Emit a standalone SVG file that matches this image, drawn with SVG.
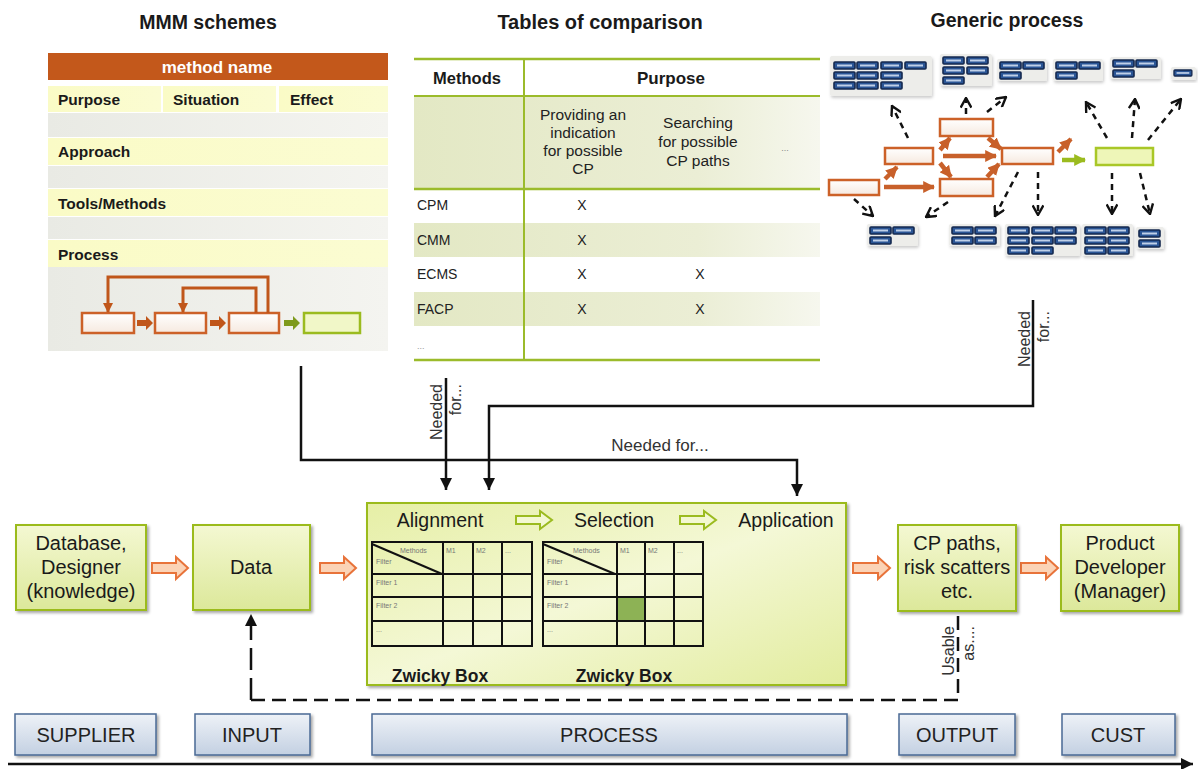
<svg xmlns="http://www.w3.org/2000/svg" width="1198" height="769" viewBox="0 0 1198 769">
<style>
.t{font-family:"Liberation Sans",Arial,sans-serif;fill:#1a1a1a}
.b{font-weight:bold}
.n{font-family:"Liberation Sans Narrow","Liberation Sans",Arial,sans-serif;fill:#222}
.node{fill:url(#gNode);stroke:#9BBB1F;stroke-width:2;filter:url(#sh)}
.bar{fill:url(#gBar);stroke:#4A6A95;stroke-width:1.5;filter:url(#sh)}
.ob{fill:url(#gOb);stroke:#CC6128;stroke-width:2.5}
.grp{fill:#EDEDEA;filter:url(#sh2)}
.conn{fill:none;stroke:#111;stroke-width:2.5}
.dash{fill:none;stroke:#111;stroke-width:2.5;stroke-dasharray:6 5}
.oa{fill:none;stroke:#C8602A;stroke-width:4.5}
.harrO{fill:#FBD3B6;stroke:#E8733A;stroke-width:2}
.harrG{fill:#F3F8D2;stroke:#9BBB1F;stroke-width:2}
.zg{fill:none;stroke:#111;stroke-width:2}
.zt{font-family:"Liberation Sans",Arial,sans-serif;font-size:7px;fill:#777}
.tg{stroke:#9BBB2B;fill:none}
</style>
<defs>
<filter id="sh" x="-10%" y="-10%" width="130%" height="130%"><feDropShadow dx="2" dy="2" stdDeviation="1.5" flood-color="#000" flood-opacity="0.35"/></filter>
<filter id="sh2" x="-10%" y="-10%" width="130%" height="130%"><feDropShadow dx="1" dy="2" stdDeviation="1.5" flood-color="#000" flood-opacity="0.2"/></filter>
<linearGradient id="gNode" x1="0" y1="0" x2="0" y2="1"><stop offset="0" stop-color="#F4F8D2"/><stop offset="1" stop-color="#DCE89A"/></linearGradient>
<linearGradient id="gProc" x1="0" y1="0" x2="1" y2="1"><stop offset="0" stop-color="#E6EFA6"/><stop offset="0.5" stop-color="#F4F8D6"/><stop offset="1" stop-color="#E2EC9E"/></linearGradient>
<linearGradient id="gBar" x1="0" y1="0" x2="0" y2="1"><stop offset="0" stop-color="#EEF2F7"/><stop offset="1" stop-color="#C3D0E2"/></linearGradient>
<linearGradient id="gOb" x1="0" y1="0" x2="0" y2="1"><stop offset="0" stop-color="#FFFFFF"/><stop offset="1" stop-color="#F6E9DF"/></linearGradient>
<linearGradient id="gRow" x1="0" y1="0" x2="1" y2="0"><stop offset="0" stop-color="#E3E8C4"/><stop offset="0.7" stop-color="#EBEED5"/><stop offset="1" stop-color="#F6F7EE"/></linearGradient>
<linearGradient id="gGrey" x1="0" y1="0" x2="1" y2="0"><stop offset="0" stop-color="#E9EAE4"/><stop offset="1" stop-color="#F4F4F0"/></linearGradient>
<linearGradient id="gYel" x1="0" y1="0" x2="1" y2="0"><stop offset="0" stop-color="#FAFBC6"/><stop offset="1" stop-color="#FBFCD2"/></linearGradient>
<marker id="ah" viewBox="0 0 10 10" refX="10" refY="5" markerWidth="12" markerHeight="12" markerUnits="userSpaceOnUse" orient="auto"><path d="M0,0 L10,5 L0,10 z" fill="#111"/></marker>
<marker id="ahO" viewBox="0 0 10 10" refX="9" refY="5" markerWidth="10" markerHeight="10" markerUnits="userSpaceOnUse" orient="auto"><path d="M0,0 L10,5 L0,10 z" fill="#C0561A"/></marker>
<marker id="ahO2" viewBox="0 0 10 10" refX="9" refY="5" markerWidth="12" markerHeight="12" markerUnits="userSpaceOnUse" orient="auto"><path d="M0,0 L10,5 L0,10 z" fill="#C8602A"/></marker>
<marker id="ahG2" viewBox="0 0 10 10" refX="9" refY="5" markerWidth="12" markerHeight="12" markerUnits="userSpaceOnUse" orient="auto"><path d="M0,0 L10,5 L0,10 z" fill="#9BBB1F"/></marker>
<marker id="chev" viewBox="0 0 10 10" refX="9" refY="5" markerWidth="12" markerHeight="12" markerUnits="userSpaceOnUse" orient="auto"><path d="M1,0.5 L9,5 L1,9.5" fill="none" stroke="#111" stroke-width="2"/></marker>
<g id="bl"><rect width="21" height="7" rx="1" fill="#2A5595" stroke="#15294F" stroke-width="1.6"/><rect x="3" y="2.5" width="15" height="2" fill="#BFD0E8"/></g>
</defs>

<rect width="1198" height="769" fill="#fff"/>

<!-- MMM schemes -->
<g id="mmm">
<text class="t b" x="208" y="29" font-size="19.5" text-anchor="middle">MMM schemes</text>
<rect x="48" y="53" width="340" height="27" fill="#C3581B"/>
<text class="t b" x="217" y="73" font-size="17" text-anchor="middle" style="fill:#fff">method name</text>
<rect x="48" y="86" width="113" height="26" fill="url(#gYel)"/>
<rect x="163" y="86" width="113" height="26" fill="url(#gYel)"/>
<rect x="279" y="86" width="109" height="26" fill="url(#gYel)"/>
<rect x="48" y="113" width="340" height="24" fill="url(#gGrey)"/>
<rect x="48" y="138" width="340" height="27" fill="url(#gYel)"/>
<rect x="48" y="166" width="340" height="22" fill="url(#gGrey)"/>
<rect x="48" y="189" width="340" height="27" fill="url(#gYel)"/>
<rect x="48" y="217" width="340" height="22" fill="url(#gGrey)"/>
<rect x="48" y="240" width="340" height="27" fill="url(#gYel)"/>
<rect x="48" y="267" width="340" height="84" fill="url(#gGrey)"/>
<g class="t b" font-size="15.5">
<text x="58" y="105">Purpose</text>
<text x="173" y="105">Situation</text>
<text x="290" y="105">Effect</text>
<text x="58" y="157">Approach</text>
<text x="58" y="209">Tools/Methods</text>
<text x="58" y="260">Process</text>
</g>
<rect class="ob" x="82" y="313" width="52" height="20"/>
<rect class="ob" x="155" y="313" width="51" height="20"/>
<rect class="ob" x="229" y="313" width="50" height="20"/>
<rect x="304" y="313" width="56" height="20" fill="#F1F7C8" stroke="#9BBB1F" stroke-width="2.5"/>
<path d="M137,320 H146 V316 L153,323 L146,330 V326 H137 Z" fill="#C0561A"/>
<path d="M210,320 H219 V316 L226,323 L219,330 V326 H210 Z" fill="#C0561A"/>
<path d="M284,320 H293 V316 L300,323 L293,330 V326 H284 Z" fill="#7E9A1C"/>
<path d="M268,313 V277 H108 V312" fill="none" stroke="#C0561A" stroke-width="3" marker-end="url(#ahO)"/>
<path d="M256,313 V288 H183 V312" fill="none" stroke="#C0561A" stroke-width="3" marker-end="url(#ahO)"/>
</g>

<!-- Tables of comparison -->
<g id="table">
<text class="t b" x="600" y="29" font-size="20" text-anchor="middle">Tables of comparison</text>
<rect x="414" y="97" width="406" height="92" fill="url(#gRow)"/>
<rect x="414" y="223" width="406" height="34" fill="url(#gRow)"/>
<rect x="414" y="292" width="406" height="34" fill="url(#gRow)"/>
<line class="tg" x1="414" y1="59" x2="820" y2="59" stroke-width="2.5"/>
<line class="tg" x1="414" y1="96" x2="820" y2="96" stroke-width="2"/>
<line class="tg" x1="414" y1="189" x2="820" y2="189" stroke-width="2.5"/>
<line class="tg" x1="414" y1="360" x2="820" y2="360" stroke-width="2.5"/>
<line class="tg" x1="524" y1="59" x2="524" y2="360" stroke-width="2"/>
<text class="t b" x="467" y="84" font-size="16.5" text-anchor="middle">Methods</text>
<text class="t b" x="671" y="84" font-size="17" text-anchor="middle">Purpose</text>
<g class="n" font-size="15.5" text-anchor="middle">
<text x="583" y="120">Providing an</text>
<text x="583" y="138">indication</text>
<text x="583" y="156">for possible</text>
<text x="583" y="174">CP</text>
<text x="698" y="128">Searching</text>
<text x="698" y="147">for possible</text>
<text x="698" y="166">CP paths</text>
<text x="785" y="151" font-size="9" fill="#888">...</text>
</g>
<g class="n" font-size="14">
<text x="417" y="210">CPM</text>
<text x="417" y="245">CMM</text>
<text x="417" y="279">ECMS</text>
<text x="417" y="314">FACP</text>
<text x="417" y="349" font-size="9" style="fill:#999">...</text>
</g>
<g class="n" font-size="14" text-anchor="middle">
<text x="582" y="210">X</text>
<text x="582" y="245">X</text>
<text x="582" y="279">X</text>
<text x="700" y="279">X</text>
<text x="582" y="314">X</text>
<text x="700" y="314">X</text>
</g>
</g>

<!-- Generic process -->
<g id="generic">
<text class="t b" x="1007" y="27" font-size="19.5" text-anchor="middle">Generic process</text>
<rect class="grp" x="830" y="56" width="102" height="40" rx="2"/>
<rect class="grp" x="940" y="54" width="52" height="32" rx="2"/>
<rect class="grp" x="997" y="59" width="50" height="22" rx="2"/>
<rect class="grp" x="1053" y="59" width="50" height="22" rx="2"/>
<rect class="grp" x="1110" y="57" width="51" height="22" rx="2"/>
<rect class="grp" x="1171" y="67" width="25" height="13" rx="2"/>
<use href="#bl" x="834" y="62"/><use href="#bl" x="857" y="62"/><use href="#bl" x="881" y="62"/><use href="#bl" x="905" y="62"/>
<use href="#bl" x="834" y="72"/><use href="#bl" x="857" y="72"/><use href="#bl" x="881" y="72"/>
<use href="#bl" x="834" y="82"/><use href="#bl" x="857" y="82"/><use href="#bl" x="881" y="82"/>
<use href="#bl" x="943" y="57"/><use href="#bl" x="967" y="57"/>
<use href="#bl" x="943" y="67"/><use href="#bl" x="967" y="67"/>
<use href="#bl" x="943" y="77"/>
<use href="#bl" x="1000" y="62"/><use href="#bl" x="1023" y="62"/><use href="#bl" x="1000" y="72"/>
<use href="#bl" x="1056" y="62"/><use href="#bl" x="1079" y="62"/><use href="#bl" x="1056" y="72"/>
<use href="#bl" x="1113" y="60"/><use href="#bl" x="1136" y="60"/><use href="#bl" x="1113" y="70"/>
<use href="#bl" x="1174" y="70" transform="translate(1174,70) scale(0.85) translate(-1174,-70)"/>

<rect class="grp" x="867" y="224" width="51" height="22" rx="2"/>
<rect class="grp" x="949" y="224" width="51" height="22" rx="2"/>
<rect class="grp" x="1005" y="224" width="75" height="32" rx="2"/>
<rect class="grp" x="1082" y="224" width="51" height="32" rx="2"/>
<rect class="grp" x="1136" y="227" width="28" height="22" rx="2"/>
<use href="#bl" x="870" y="227"/><use href="#bl" x="893" y="227"/><use href="#bl" x="870" y="237"/>
<use href="#bl" x="952" y="227"/><use href="#bl" x="975" y="227"/><use href="#bl" x="952" y="237"/><use href="#bl" x="975" y="237"/>
<use href="#bl" x="1008" y="227"/><use href="#bl" x="1032" y="227"/><use href="#bl" x="1055" y="227"/>
<use href="#bl" x="1008" y="237"/><use href="#bl" x="1032" y="237"/><use href="#bl" x="1055" y="237"/>
<use href="#bl" x="1008" y="247"/><use href="#bl" x="1032" y="247"/>
<use href="#bl" x="1085" y="227"/><use href="#bl" x="1108" y="227"/>
<use href="#bl" x="1085" y="237"/><use href="#bl" x="1108" y="237"/>
<use href="#bl" x="1085" y="247"/><use href="#bl" x="1108" y="247"/>
<use href="#bl" x="1139" y="230"/><use href="#bl" x="1139" y="240"/>

<rect class="ob" x="829" y="180" width="50" height="15"/>
<rect class="ob" x="885" y="148" width="48" height="16"/>
<rect class="ob" x="940" y="119" width="53" height="17"/>
<rect class="ob" x="940" y="179" width="53" height="17"/>
<rect class="ob" x="1002" y="148" width="51" height="16"/>
<rect x="1096" y="148" width="57" height="17" fill="#EEF6B8" stroke="#A9C727" stroke-width="2.5"/>

<g class="oa">
<line x1="885" y1="179" x2="897" y2="167" marker-end="url(#ahO2)"/>
<line x1="884" y1="187" x2="934" y2="187" marker-end="url(#ahO2)"/>
<line x1="940" y1="150" x2="950" y2="138" marker-end="url(#ahO2)"/>
<line x1="940" y1="163" x2="951" y2="177" marker-end="url(#ahO2)"/>
<line x1="943" y1="156" x2="996" y2="156" marker-end="url(#ahO2)"/>
<line x1="988" y1="138" x2="1001" y2="149" marker-end="url(#ahO2)"/>
<line x1="987" y1="177" x2="999" y2="164" marker-end="url(#ahO2)"/>
<line x1="1058" y1="152" x2="1071" y2="139" marker-end="url(#ahO2)"/>
</g>
<line x1="1062" y1="160" x2="1085" y2="160" stroke="#9BBB1F" stroke-width="4.5" marker-end="url(#ahG2)"/>

<g class="dash">
<line x1="908" y1="138" x2="892" y2="106" marker-end="url(#chev)"/>
<line x1="966" y1="114" x2="966" y2="98" marker-end="url(#chev)"/>
<line x1="987" y1="112" x2="1006" y2="97" marker-end="url(#chev)"/>
<line x1="1107" y1="138" x2="1086" y2="102" marker-end="url(#chev)"/>
<line x1="1132" y1="138" x2="1135" y2="99" marker-end="url(#chev)"/>
<line x1="1148" y1="140" x2="1181" y2="99" marker-end="url(#chev)"/>
<line x1="854" y1="199" x2="873" y2="216" marker-end="url(#chev)"/>
<line x1="948" y1="202" x2="926" y2="217" marker-end="url(#chev)"/>
<line x1="1018" y1="172" x2="995" y2="216" marker-end="url(#chev)"/>
<line x1="1038" y1="172" x2="1038" y2="215" marker-end="url(#chev)"/>
<line x1="1112" y1="173" x2="1112" y2="214" marker-end="url(#chev)"/>
<line x1="1140" y1="173" x2="1150" y2="214" marker-end="url(#chev)"/>
</g>
</g>

<!-- connectors -->
<g id="connectors">
<path class="conn" d="M301,366 V460 H797 V496" marker-end="url(#ah)"/>
<path class="conn" d="M446,378 V490" marker-end="url(#ah)"/>
<path class="conn" d="M1033,300 V406 H489 V490" marker-end="url(#ah)"/>
<path d="M251,700 V614" fill="none" stroke="#111" stroke-width="2.5" stroke-dasharray="22 8" marker-end="url(#ah)"/>
<path d="M251,700 H958 V612" fill="none" stroke="#111" stroke-width="2.5" stroke-dasharray="14 7"/>
<path class="harrO" d="M152,563 H176 V557 L188,568 L176,579 V573 H152 Z"/>
<path class="harrO" d="M320,563 H344 V557 L356,568 L344,579 V573 H320 Z"/>
<path class="harrO" d="M853,563 H878 V557 L890,568 L878,579 V573 H853 Z"/>
<path class="harrO" d="M1021,563 H1046 V557 L1058,568 L1046,579 V573 H1021 Z"/>
<text class="t" x="660" y="451" font-size="17" text-anchor="middle" style="fill:#333">Needed for...</text>
<g class="t" font-size="16" text-anchor="end" style="fill:#333">
<text transform="translate(442,384) rotate(-90)">Needed</text>
<text transform="translate(461,384) rotate(-90)">for...</text>
<text transform="translate(1030,311) rotate(-90)">Needed</text>
<text transform="translate(1049,311) rotate(-90)">for...</text>
<text transform="translate(954,626) rotate(-90)">Usable</text>
<text transform="translate(974,626) rotate(-90)">as....</text>
</g>
</g>

<!-- nodes -->
<g id="n-database">
<rect class="node" x="16" y="525" width="130" height="85"/>
<text class="t" font-size="20" text-anchor="middle"><tspan x="81" y="550">Database,</tspan><tspan x="81" y="574">Designer</tspan><tspan x="81" y="598">(knowledge)</tspan></text>
</g>
<g id="n-data">
<rect class="node" x="193" y="525" width="117" height="85"/>
<text class="t" x="251" y="574" font-size="20" text-anchor="middle">Data</text>
</g>
<g id="n-process">
<rect x="367" y="503" width="479" height="182" fill="url(#gProc)" stroke="#9BBB1F" stroke-width="2" filter="url(#sh)"/>
<text class="t" x="440" y="527" font-size="19.5" text-anchor="middle">Alignment</text>
<text class="t" x="614" y="527" font-size="19.5" text-anchor="middle">Selection</text>
<text class="t" x="786" y="527" font-size="19.5" text-anchor="middle">Application</text>
<path class="harrG" d="M516,516 H540 V511 L552,520 L540,529 V524 H516 Z"/>
<path class="harrG" d="M680,516 H704 V511 L716,520 L704,529 V524 H680 Z"/>
<!-- Zwicky 1 -->
<g class="zg">
<rect x="372" y="542" width="160" height="104"/>
<line x1="443" y1="542" x2="443" y2="646"/><line x1="473" y1="542" x2="473" y2="646"/><line x1="502" y1="542" x2="502" y2="646"/>
<line x1="372" y1="574" x2="532" y2="574"/><line x1="372" y1="597" x2="532" y2="597"/><line x1="372" y1="621" x2="532" y2="621"/>
<line x1="372" y1="544" x2="442" y2="574"/>
</g>
<text class="zt" x="400" y="553">Methods</text><text class="zt" x="376" y="564">Filter</text>
<text class="zt" x="446" y="553">M1</text><text class="zt" x="476" y="553">M2</text><text class="zt" x="505" y="553">...</text>
<text class="zt" x="376" y="585">Filter 1</text><text class="zt" x="376" y="608">Filter 2</text><text class="zt" x="376" y="632">...</text>
<!-- Zwicky 2 -->
<rect x="617" y="597" width="28" height="24" fill="#8DB255"/>
<g class="zg">
<rect x="543" y="542" width="160" height="104"/>
<line x1="617" y1="542" x2="617" y2="646"/><line x1="645" y1="542" x2="645" y2="646"/><line x1="674" y1="542" x2="674" y2="646"/>
<line x1="543" y1="574" x2="703" y2="574"/><line x1="543" y1="597" x2="703" y2="597"/><line x1="543" y1="621" x2="703" y2="621"/>
<line x1="543" y1="544" x2="615" y2="574"/>
</g>
<text class="zt" x="573" y="553">Methods</text><text class="zt" x="547" y="564">Filter</text>
<text class="zt" x="620" y="553">M1</text><text class="zt" x="648" y="553">M2</text><text class="zt" x="677" y="553">...</text>
<text class="zt" x="547" y="585">Filter 1</text><text class="zt" x="547" y="608">Filter 2</text><text class="zt" x="547" y="632">...</text>
<text class="t b" x="440" y="682" font-size="17.5" text-anchor="middle">Zwicky  Box</text>
<text class="t b" x="624" y="682" font-size="17.5" text-anchor="middle">Zwicky  Box</text>
</g>
<g id="n-cp">
<rect class="node" x="898" y="525" width="118" height="86"/>
<text class="t" font-size="20" text-anchor="middle"><tspan x="957" y="550">CP paths,</tspan><tspan x="957" y="574">risk scatters</tspan><tspan x="957" y="598">etc.</tspan></text>
</g>
<g id="n-dev">
<rect class="node" x="1061" y="525" width="118" height="86"/>
<text class="t" font-size="20" text-anchor="middle"><tspan x="1120" y="550">Product</tspan><tspan x="1120" y="574">Developer</tspan><tspan x="1120" y="598">(Manager)</tspan></text>
</g>

<!-- SIPOC bar -->
<g id="sipoc">
<rect class="bar" x="15" y="714" width="141" height="41"/>
<rect class="bar" x="195" y="714" width="115" height="41"/>
<rect class="bar" x="372" y="714" width="475" height="41"/>
<rect class="bar" x="899" y="714" width="116" height="41"/>
<rect class="bar" x="1062" y="714" width="113" height="41"/>
<g class="n" font-size="20" text-anchor="middle">
<text x="86" y="742">SUPPLIER</text>
<text x="252" y="742">INPUT</text>
<text x="609" y="742">PROCESS</text>
<text x="957" y="742">OUTPUT</text>
<text x="1118" y="742">CUST</text>
</g>
<line x1="8" y1="764" x2="1193" y2="764" stroke="#111" stroke-width="2.5" marker-end="url(#ah)"/>
</g>
</svg>
